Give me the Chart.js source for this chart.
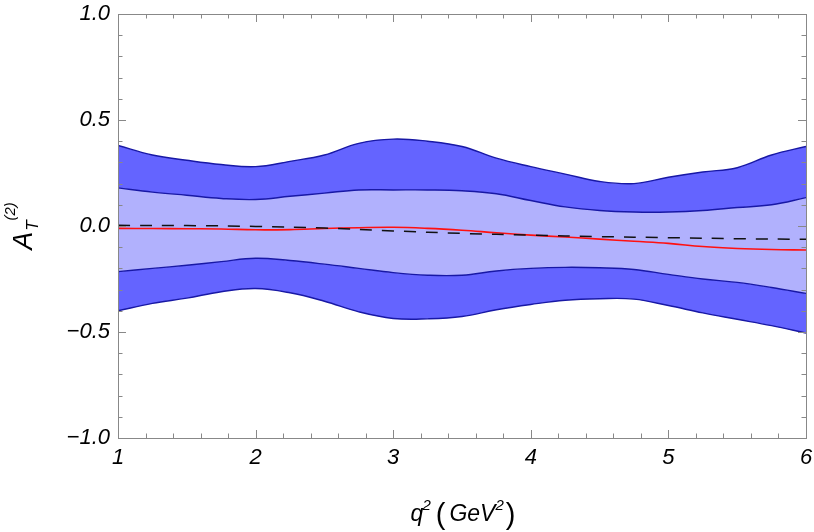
<!DOCTYPE html>
<html>
<head>
<meta charset="utf-8">
<script src="https://cdn.jsdelivr.net/npm/chart.js@4.4.0/dist/chart.umd.min.js"></script>
<style>
  html, body { margin: 0; padding: 0; background: #fff; }
  #wrap { width: 814px; height: 532px; }
</style>
</head>
<body>
<div id="wrap"><canvas id="atChart" width="814" height="532"></canvas></div>
<script>
// q^2 grid for the bands and the central curve
const q2 = [1, 1.25, 1.5, 1.75, 2, 2.25, 2.5, 2.75, 3, 3.25, 3.5, 3.75, 4, 4.25, 4.5, 4.75, 5, 5.25, 5.5, 5.75, 6];
const outerUpper = [0.38, 0.335, 0.31, 0.29, 0.28, 0.305, 0.335, 0.39, 0.41, 0.40, 0.375, 0.32, 0.28, 0.245, 0.21, 0.20, 0.23, 0.255, 0.275, 0.335, 0.375];
const innerUpper = [0.18, 0.16, 0.145, 0.13, 0.125, 0.14, 0.155, 0.17, 0.17, 0.17, 0.166, 0.152, 0.12, 0.09, 0.073, 0.066, 0.066, 0.073, 0.087, 0.10, 0.134];
const innerLower = [-0.215, -0.20, -0.185, -0.168, -0.152, -0.163, -0.18, -0.20, -0.22, -0.232, -0.232, -0.212, -0.20, -0.195, -0.197, -0.205, -0.228, -0.25, -0.266, -0.29, -0.318];
const outerLower = [-0.40, -0.365, -0.34, -0.31, -0.295, -0.315, -0.355, -0.405, -0.436, -0.438, -0.427, -0.395, -0.37, -0.35, -0.343, -0.345, -0.375, -0.41, -0.44, -0.47, -0.505];
const central = [-0.011, -0.012, -0.013, -0.014, -0.018, -0.017, -0.012, -0.008, -0.006, -0.011, -0.02, -0.032, -0.043, -0.052, -0.062, -0.072, -0.082, -0.097, -0.106, -0.111, -0.113];

// dashed reference curve
const dashQ2 = [1, 1.5, 2, 2.5, 3, 3.5, 4, 4.5, 5, 5.5, 6];
const dashVals = [0.003, 0.002, -0.002, -0.01, -0.023, -0.035, -0.043, -0.05, -0.055, -0.06, -0.063];

const xTickVals = [1, 2, 3, 4, 5, 6];
const yTickVals = [-1, -0.5, 0, 0.5, 1];

const darkFill = "rgb(100,100,255)";
const lightFill = "rgb(177,177,253)";
const edge = "rgb(24,24,165)";
const frameColor = "#888";
const fontFam = "'Liberation Sans', Arial, sans-serif";

function pts(xs, ys) {
  return xs.map((x, i) => ({ x: x, y: ys[i] }));
}

function bandSet(ys, fill, bg) {
  return {
    data: pts(q2, ys),
    borderColor: edge,
    borderWidth: 1.4,
    backgroundColor: bg || "transparent",
    fill: fill,
    tension: 0.4,
    pointRadius: 0
  };
}

// draws pieces of text one after another (for sub/superscripts), centred on cx
function drawParts(ctx, parts, cx, baseY) {
  let total = 0;
  parts.forEach(p => {
    ctx.font = p.font;
    p.w = ctx.measureText(p.t).width + (p.gap || 0);
    total += p.w;
  });
  let x = cx - total / 2;
  parts.forEach(p => {
    ctx.font = p.font;
    ctx.fillText(p.t, x, baseY + (p.dy || 0));
    x += p.w;
  });
}

const framePlugin = {
  id: "frameTicks",
  afterDatasetsDraw(chart) {
    const ctx = chart.ctx;
    const a = chart.chartArea;
    const xs = chart.scales.x;
    const ys = chart.scales.y;
    ctx.save();
    ctx.strokeStyle = frameColor;
    ctx.lineWidth = 1;
    ctx.strokeRect(Math.round(a.left) + 0.5, Math.round(a.top) + 0.5, Math.round(a.right - a.left), Math.round(a.bottom - a.top));

    ctx.beginPath();
    for (let i = 0; i <= 25; i++) {
      const v = 1 + i * 0.2;
      const px = Math.round(xs.getPixelForValue(v)) + 0.5;
      const len = i % 5 === 0 ? 8 : 4.5;
      ctx.moveTo(px, a.bottom); ctx.lineTo(px, a.bottom - len);
      ctx.moveTo(px, a.top); ctx.lineTo(px, a.top + len);
    }
    for (let i = 0; i <= 20; i++) {
      const v = -1 + i * 0.1;
      const py = Math.round(ys.getPixelForValue(v)) + 0.5;
      const len = i % 5 === 0 ? 8 : 4.5;
      ctx.moveTo(a.left, py); ctx.lineTo(a.left + len, py);
      ctx.moveTo(a.right, py); ctx.lineTo(a.right - len, py);
    }
    ctx.stroke();
    ctx.restore();
  },
  afterDraw(chart) {
    const ctx = chart.ctx;
    const a = chart.chartArea;
    ctx.save();
    ctx.fillStyle = "#000";
    ctx.textBaseline = "alphabetic";
    ctx.textAlign = "left";
    const big = "italic 23px " + fontFam;
    const small = "italic 15px " + fontFam;
    const paren = "29px " + fontFam;
    drawParts(ctx, [
      { t: "q", font: big, gap: -1 },
      { t: "2", font: small, dy: -11, gap: 5 },
      { t: "(", font: paren, dy: 3, gap: 4 },
      { t: "GeV", font: big },
      { t: "2", font: small, dy: -11, gap: 2 },
      { t: ")", font: paren, dy: 3 }
    ], (a.left + a.right) / 2 + 1, 521);

    ctx.translate(32, (a.top + a.bottom) / 2);
    ctx.rotate(-Math.PI / 2);
    drawParts(ctx, [
      { t: "A", font: "italic 27px " + fontFam, gap: 1 },
      { t: "T", font: "italic 17px " + fontFam, dy: 6 },
      { t: "(2)", font: small, dy: -17 }
    ], 0, 0);
    ctx.restore();
  }
};

new Chart(document.getElementById("atChart"), {
  type: "line",
  data: {
    datasets: [
      {
        data: pts(dashQ2, dashVals),
        borderColor: "#111",
        borderWidth: 1.5,
        borderDash: [12, 10],
        fill: false,
        tension: 0.4,
        pointRadius: 0
      },
      {
        data: pts(q2, central),
        borderColor: "#ff1010",
        borderWidth: 1.6,
        fill: false,
        tension: 0.4,
        pointRadius: 0
      },
      bandSet(outerUpper, "+1", darkFill),
      bandSet(innerUpper, "+1", lightFill),
      bandSet(innerLower, "+1", darkFill),
      bandSet(outerLower, false)
    ]
  },
  options: {
    responsive: false,
    animation: false,
    layout: { padding: { top: 14, right: 8, left: 0, bottom: 0 } },
    plugins: {
      legend: { display: false },
      tooltip: { enabled: false },
      filler: { drawTime: "beforeDatasetsDraw" }
    },
    scales: {
      x: {
        type: "linear",
        min: 1,
        max: 6,
        grid: { display: false, drawTicks: false },
        border: { display: false },
        afterBuildTicks(scale) { scale.ticks = xTickVals.map(v => ({ value: v })); },
        afterFit(scale) {
          scale.height = 94;
          scale.paddingLeft = 0;
          scale.paddingRight = 0;
        },
        ticks: {
          color: "#000",
          padding: 7,
          maxRotation: 0,
          font: { family: fontFam, size: 22, style: "italic" },
          callback: v => String(v)
        }
      },
      y: {
        type: "linear",
        min: -1,
        max: 1,
        grid: { display: false, drawTicks: false },
        border: { display: false },
        afterBuildTicks(scale) { scale.ticks = yTickVals.map(v => ({ value: v })); },
        afterFit(scale) {
          scale.width = 118;
          scale.paddingTop = 0;
          scale.paddingBottom = 0;
        },
        ticks: {
          color: "#000",
          padding: 8,
          font: { family: fontFam, size: 22, style: "italic" },
          callback: v => (v < 0 ? "\u2212" : "") + Math.abs(v).toFixed(1)
        }
      }
    }
  },
  plugins: [framePlugin]
});
</script>
</body>
</html>
